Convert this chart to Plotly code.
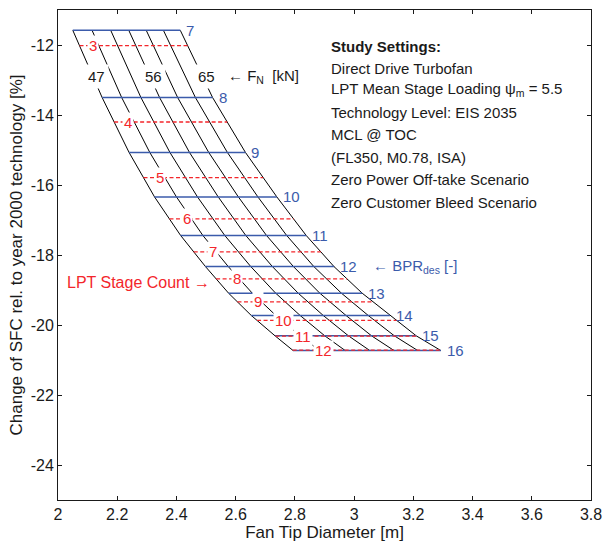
import numpy as np
import plotly.graph_objects as go

# Design bypass ratio rows and net thrust columns of the carpet
bpr = [7, 8, 9, 10, 11, 12, 13, 14, 15, 16]
fn_kn = [47, 50, 53, 56, 59, 62, 65]

# SFC change [%] reached at each design BPR
sfc_bpr = [-11.58, -13.50, -15.07, -16.34, -17.44, -18.33, -19.09, -19.73, -20.31, -20.73]

# Fan tip diameter [m]; rows follow bpr, columns follow fn_kn
diam = [
    [2.050, 2.115, 2.178, 2.239, 2.298, 2.356, 2.413],
    [2.149, 2.215, 2.280, 2.343, 2.404, 2.464, 2.522],
    [2.240, 2.310, 2.378, 2.444, 2.509, 2.572, 2.633],
    [2.326, 2.400, 2.471, 2.541, 2.609, 2.675, 2.739],
    [2.414, 2.489, 2.563, 2.634, 2.704, 2.772, 2.838],
    [2.498, 2.575, 2.651, 2.724, 2.795, 2.864, 2.932],
    [2.576, 2.656, 2.735, 2.811, 2.884, 2.957, 3.027],
    [2.653, 2.736, 2.818, 2.896, 2.973, 3.048, 3.121],
    [2.733, 2.818, 2.901, 2.981, 3.059, 3.136, 3.210],
    [2.794, 2.883, 2.970, 3.053, 3.135, 3.215, 3.293],
]

# LPT stage count iso-lines
lpt_stages = [3, 4, 5, 6, 7, 8, 9, 10, 11, 12]
sfc_lpt = [-12.02, -14.20, -15.79, -16.97, -17.91, -18.68, -19.34, -19.87, -20.32, -20.72]
lpt_label_x = [2.117, 2.235, 2.343, 2.436, 2.522, 2.603, 2.677, 2.760, 2.826, 2.896]

fn_labelled = [47, 56, 65]
fn_label_sfc = -12.9

x_ticks = [2.0, 2.2, 2.4, 2.6, 2.8, 3.0, 3.2, 3.4, 3.6, 3.8]
x_tick_text = ["2", "2.2", "2.4", "2.6", "2.8", "3", "3.2", "3.4", "3.6", "3.8"]
y_ticks = [-24, -22, -20, -18, -16, -14, -12]
y_tick_text = ["-24", "-22", "-20", "-18", "-16", "-14", "-12"]

settings_lines = [
    "<b>Study Settings:</b>",
    "Direct Drive Turbofan",
    "LPT Mean Stage Loading \u03c8<sub>m</sub> = 5.5",
    "Technology Level: EIS 2035",
    "MCL @ TOC",
    "(FL350, M0.78, ISA)",
    "Zero Power Off-take Scenario",
    "Zero Customer Bleed Scenario",
]
settings_sfc = [-12.04, -12.66, -13.28, -13.93, -14.55, -15.20, -15.85, -16.50]

BLUE = "#3b5bab"
RED = "#f3262b"
INK = "#1a1a1a"
FONT = "Liberation Sans, Arial, sans-serif"

D = np.array(diam)
S = np.array(sfc_bpr)

fig = go.Figure()

# constant-thrust curves (black)
for j, fn in enumerate(fn_kn):
    fig.add_trace(go.Scatter(x=D[:, j], y=S, mode="lines",
                             line=dict(color="black", width=1), hoverinfo="skip"))

# constant-BPR lines (blue)
for i, b in enumerate(bpr):
    fig.add_trace(go.Scatter(x=[D[i, 0], D[i, -1]], y=[S[i], S[i]], mode="lines",
                             line=dict(color=BLUE, width=1.5), hoverinfo="skip"))

# LPT stage count lines (red dashed) bounded by the outer thrust curves
s_inc = S[::-1]
left_edge = D[::-1, 0]
right_edge = D[::-1, -1]
for k, st in enumerate(lpt_stages):
    y = sfc_lpt[k]
    xl = np.interp(y, s_inc, left_edge)
    xr = np.interp(y, s_inc, right_edge)
    fig.add_trace(go.Scatter(x=[xl, xr], y=[y, y], mode="lines",
                             line=dict(color=RED, width=1.3, dash="4px,2.5px"),
                             hoverinfo="skip"))

annotations = []

# BPR labels at the right end of each blue line
for i, b in enumerate(bpr):
    annotations.append(dict(x=D[i, -1], y=S[i], text=str(b), showarrow=False,
                            xanchor="left", yanchor="middle", xshift=4,
                            font=dict(color=BLUE, size=15, family=FONT)))

# LPT stage labels sitting in the red lines
for k, st in enumerate(lpt_stages):
    annotations.append(dict(x=lpt_label_x[k], y=sfc_lpt[k], text=str(st), showarrow=False,
                            xanchor="center", yanchor="middle", bgcolor="white",
                            borderpad=1,
                            font=dict(color=RED, size=15, family=FONT)))

# thrust labels on selected black curves
for fn in fn_labelled:
    j = fn_kn.index(fn)
    xf = np.interp(fn_label_sfc, S[::-1], D[::-1, j])
    annotations.append(dict(x=xf, y=fn_label_sfc, text=str(fn), showarrow=False,
                            xanchor="center", yanchor="middle", xshift=4, bgcolor="white",
                            borderpad=3,
                            font=dict(color=INK, size=15, family=FONT)))

annotations.append(dict(x=2.566, y=fn_label_sfc, text="\u2190 F<sub>N</sub>  [kN]",
                        showarrow=False, xanchor="left", yanchor="middle",
                        font=dict(color=INK, size=15, family=FONT)))
annotations.append(dict(x=3.058, y=-18.33, text="\u2190 BPR<sub>des</sub> [-]",
                        showarrow=False, xanchor="left", yanchor="middle",
                        font=dict(color=BLUE, size=15, family=FONT)))
annotations.append(dict(x=2.025, y=-18.79, text="LPT Stage Count \u2192",
                        showarrow=False, xanchor="left", yanchor="middle",
                        font=dict(color=RED, size=16, family=FONT)))

for txt, yv in zip(settings_lines, settings_sfc):
    annotations.append(dict(x=2.914, y=yv, text=txt, showarrow=False,
                            xanchor="left", yanchor="middle",
                            font=dict(color=INK, size=15, family=FONT)))

fig.update_layout(
    width=611, height=544,
    margin=dict(l=58, r=11, t=9, b=39),
    paper_bgcolor="white", plot_bgcolor="white",
    showlegend=False,
    font=dict(family=FONT, size=16, color=INK),
    annotations=annotations,
    xaxis=dict(range=[2, 3.8], tickvals=x_ticks, ticktext=x_tick_text,
               ticks="inside", ticklen=4, tickcolor=INK,
               tickfont=dict(size=16), ticklabeloverflow="allow",
               showline=True, linecolor=INK, linewidth=1, mirror="allticks",
               showgrid=False, zeroline=False,
               title=dict(text="Fan Tip Diameter [m]", standoff=0,
                          font=dict(size=17))),
    yaxis=dict(range=[-25, -11], tickvals=y_ticks, ticktext=y_tick_text,
               ticks="inside", ticklen=4, tickcolor=INK,
               tickfont=dict(size=16),
               showline=True, linecolor=INK, linewidth=1, mirror="allticks",
               showgrid=False, zeroline=False,
               title=dict(text="Change of SFC rel. to year 2000 technology [%]",
                          standoff=3, font=dict(size=17))),
)

fig.write_html("out.html")
